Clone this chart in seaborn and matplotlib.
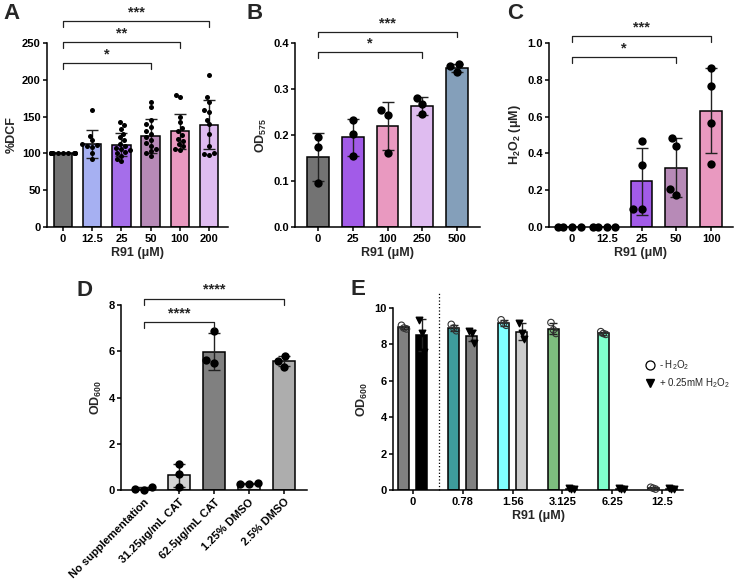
import numpy as np
import pandas as pd
import matplotlib
matplotlib.use('Agg')
import matplotlib.pyplot as plt
from matplotlib.lines import Line2D
import seaborn as sns
import warnings
warnings.filterwarnings('ignore')

sns.set_theme(style='ticks')
plt.rcParams.update({
    'font.family': ['Liberation Sans', 'DejaVu Sans'],
    'axes.labelweight': 'bold',
    'mathtext.fontset': 'custom',
    'mathtext.rm': 'Liberation Sans',
    'mathtext.bf': 'Liberation Sans:bold',
    'mathtext.default': 'regular',
    'axes.linewidth': 1.1,
    'xtick.major.width': 1.1, 'ytick.major.width': 1.1,
    'xtick.major.size': 3, 'ytick.major.size': 3,
    'xtick.major.pad': 2, 'ytick.major.pad': 1.5,
    'xtick.labelsize': 8, 'ytick.labelsize': 8,
    'axes.labelsize': 9,
    'axes.edgecolor': 'black',
    'xtick.color': 'black', 'ytick.color': 'black',
})

# ---------------- data ----------------
a_cats = ['0', '12.5', '25', '50', '100', '200']
a_means = [100, 113, 112, 124, 130, 139]
a_sds = [0, 19, 16, 23, 24, 33]
a_points = [
    [100] * 10,
    [159, 124, 118, 113, 111, 110, 109, 100, 92],
    [142, 138, 133, 127, 122, 118, 113, 110, 108, 106, 104, 102, 100, 97, 93, 90],
    [170, 163, 146, 140, 136, 131, 127, 122, 118, 114, 110, 106, 103, 100, 96],
    [180, 176, 150, 143, 135, 130, 125, 120, 117, 113, 110, 106, 105],
    [207, 176, 170, 159, 156, 146, 140, 126, 110, 100, 99, 98],
]
a_colors = ['#737373', '#99A6FF', '#A259FF', '#BF82BE', '#F78BBF', '#E2B4F8']

b_cats = ['0', '25', '100', '250', '500']
b_means = [0.153, 0.195, 0.219, 0.263, 0.345]
b_sds = [0.052, 0.040, 0.052, 0.019, 0.009]
b_points = [[0.196, 0.173, 0.096], [0.233, 0.203, 0.154], [0.255, 0.243, 0.161],
            [0.281, 0.267, 0.245], [0.355, 0.349, 0.337]]
b_colors = ['#737373', '#A244FF', '#F78BBF', '#E2B4F8', '#7B9FC3']

c_cats = ['0', '12.5', '25', '50', '100']
c_means = [0.0, 0.0, 0.248, 0.322, 0.632]
c_sds = [0.0, 0.0, 0.182, 0.160, 0.231]
c_points = [[0, 0, 0, 0], [0, 0, 0, 0], [0.467, 0.335, 0.10, 0.10],
            [0.442, 0.482, 0.173, 0.204], [0.864, 0.767, 0.564, 0.342]]
c_colors = ['#737373', '#737373', '#A244FF', '#BF82BE', '#F78BBF']

d_cats = ['No supplementation', '31.25μg/mL CAT', '62.5μg/mL CAT', '1.25% DMSO', '2.5% DMSO']
d_means = [0.06, 0.63, 5.97, 0.27, 5.57]
d_sds = [0.06, 0.48, 0.80, 0.03, 0.22]
d_points = [[0.02, 0.13, 0.03], [1.11, 0.69, 0.14], [6.87, 5.48, 5.62],
            [0.25, 0.32, 0.28], [5.80, 5.58, 5.30]]
d_colors = ['#737373', '#D3D3D3', '#808080', '#E8E8E8', '#ADADAD']

e_groups = ['0', '0.78', '1.56', '3.125', '6.25', '12.5']
e_minus_means = [8.93, 8.90, 9.18, 8.87, 8.62, 0.10]
e_minus_sds = [0.10, 0.15, 0.15, 0.30, 0.08, 0.05]
e_minus_points = [[9.05, 8.9, 8.85], [9.1, 8.9, 8.75], [9.35, 9.15, 9.05],
                  [9.2, 8.8, 8.6], [8.7, 8.6, 8.55], [0.15, 0.1, 0.05]]
e_plus_means = [8.52, 8.47, 8.70, 0.08, 0.08, 0.08]
e_plus_sds = [0.88, 0.30, 0.45, 0.03, 0.03, 0.03]
e_plus_points = [[9.35, 8.6, 7.6], [8.75, 8.6, 8.05], [9.15, 8.65, 8.3],
                 [0.1, 0.08, 0.05], [0.1, 0.08, 0.05], [0.1, 0.08, 0.05]]
e_minus_colors = ['#808080', '#3E9C9C', '#80FFFF', '#7DBE7E', '#80FFCC', '#FFFFFF']
e_plus_colors = ['#000000', '#808080', '#CCCCCC', '#999999', '#999999', '#999999']

# ---------------- helpers ----------------
fig = plt.figure(figsize=(7.35, 5.83), dpi=100)
W, H = 735, 583


def axes_px(x0, y0, x1, y1):
    return fig.add_axes([x0 / W, 1 - y1 / H, (x1 - x0) / W, (y1 - y0) / H])


def bar_panel(ax, cats, means, sds, colors, points, dot_size):
    sns.barplot(x=cats, y=means, hue=cats, palette=colors, legend=False,
                order=cats, hue_order=cats, edgecolor='black', linewidth=1.1,
                width=0.63, errorbar=None, ax=ax, zorder=2)
    x = np.arange(len(cats))
    ax.errorbar(x, means, yerr=sds, fmt='none', ecolor='#222222', elinewidth=1,
                capsize=4, capthick=1, zorder=3)
    df = pd.DataFrame({'cat': [c for c, p in zip(cats, points) for _ in p],
                       'val': [v for p in points for v in p]})
    sns.swarmplot(data=df, x='cat', y='val', order=cats, color='black',
                  size=dot_size, ax=ax, zorder=4, clip_on=False)


def bracket(ax, x1, x2, y, h, text, dy):
    ax.plot([x1, x1, x2, x2], [y - h, y, y, y - h], color='#222222', lw=0.9,
            clip_on=False, zorder=5)
    ax.text((x1 + x2) / 2, y + dy, text, ha='center', va='center',
            fontsize=10.5, fontweight='bold', clip_on=False)


def style(ax, xlabel, ylabel):
    sns.despine(ax=ax)
    ax.set_xlabel(xlabel, fontweight='bold', labelpad=2)
    ax.set_ylabel(ylabel, fontweight='bold', labelpad=3)
    for t in ax.get_xticklabels() + ax.get_yticklabels():
        t.set_fontweight('bold')


# ---------------- A ----------------
axA = axes_px(47, 43, 228, 227)
bar_panel(axA, a_cats, a_means, a_sds, a_colors, a_points, 3.6)
axA.set_ylim(0, 250)
axA.set_xlim(-0.55, 5.65)
axA.set_yticks([0, 50, 100, 150, 200, 250])
style(axA, 'R91 (μM)', '%DCF')
bracket(axA, 0, 3, 223, 8, '*', 12)
bracket(axA, 0, 4, 251, 8, '**', 12)
bracket(axA, 0, 5, 280, 8, '***', 12)

# ---------------- B ----------------
axB = axes_px(295, 43, 480, 227)
bar_panel(axB, b_cats, b_means, b_sds, b_colors, b_points, 6)
axB.set_ylim(0, 0.4)
axB.set_xlim(-0.66, 4.66)
axB.set_yticks([0, 0.1, 0.2, 0.3, 0.4])
axB.yaxis.set_major_formatter(matplotlib.ticker.FormatStrFormatter('%.1f'))
style(axB, 'R91 (μM)', r'OD$_\mathbf{575}$')
bracket(axB, 0, 3, 0.380, 0.012, '*', 0.019)
bracket(axB, 0, 4, 0.424, 0.012, '***', 0.019)

# ---------------- C ----------------
axC = axes_px(549, 43, 733, 227)
bar_panel(axC, c_cats, c_means, c_sds, c_colors, c_points, 6)
axC.set_ylim(0, 1.0)
axC.set_xlim(-0.66, 4.63)
axC.set_yticks([0, 0.2, 0.4, 0.6, 0.8, 1.0])
axC.yaxis.set_major_formatter(matplotlib.ticker.FormatStrFormatter('%.1f'))
style(axC, 'R91 (μM)', r'H$_\mathbf{2}$O$_\mathbf{2}$ (μM)')
bracket(axC, 0, 3, 0.924, 0.03, '*', 0.047)
bracket(axC, 0, 4, 1.036, 0.03, '***', 0.047)

# ---------------- D ----------------
axD = axes_px(121, 305, 307, 490)
bar_panel(axD, d_cats, d_means, d_sds, d_colors, d_points, 6)
axD.set_ylim(0, 8)
axD.set_xlim(-0.66, 4.66)
axD.set_yticks([0, 2, 4, 6, 8])
style(axD, '', r'OD$_\mathbf{600}$')
for t in axD.get_xticklabels():
    t.set_rotation(45)
    t.set_ha('right')
    t.set_rotation_mode('anchor')
bracket(axD, 0, 2, 7.25, 0.25, '****', 0.4)
bracket(axD, 0, 4, 8.27, 0.25, '****', 0.4)

# ---------------- E ----------------
axE = axes_px(393, 308, 683, 490)
df_e = pd.DataFrame({'group': e_groups * 2,
                     'cond': ['minus'] * 6 + ['plus'] * 6,
                     'val': e_minus_means + e_plus_means})
sns.barplot(data=df_e, x='group', y='val', hue='cond', order=e_groups,
            hue_order=['minus', 'plus'], width=0.72, gap=0.39, errorbar=None,
            edgecolor='black', linewidth=1.1, legend=False, ax=axE, zorder=2)
bars = sorted(axE.patches, key=lambda p: p.get_x())
e_colors = [c for pair in zip(e_minus_colors, e_plus_colors) for c in pair]
e_means = [m for pair in zip(e_minus_means, e_plus_means) for m in pair]
e_sds = [s for pair in zip(e_minus_sds, e_plus_sds) for s in pair]
e_pts = [p for pair in zip(e_minus_points, e_plus_points) for p in pair]
centers = []
for b, c in zip(bars, e_colors):
    b.set_facecolor(c)
    centers.append(b.get_x() + b.get_width() / 2)
centers = np.array(centers)
axE.errorbar(centers, e_means, yerr=e_sds, fmt='none', ecolor='#222222',
             elinewidth=1, capsize=3, capthick=1, zorder=3)
spread = np.array([-0.05, 0.0, 0.05])
for i, (cx, pts) in enumerate(zip(centers, e_pts)):
    if i % 2 == 0:
        axE.scatter(cx + spread, pts, s=22, facecolors='none', edgecolors='#333333',
                    linewidths=0.8, zorder=4, clip_on=False)
    else:
        axE.scatter(cx + spread, pts, s=22, marker='v', color='black', zorder=4,
                    clip_on=False)
axE.plot([0.52, 0.52], [0, 10.9], ls=':', color='black', lw=0.9, clip_on=False)
axE.set_ylim(0, 10)
axE.set_xlim(-0.4, 5.42)
axE.set_yticks([0, 2, 4, 6, 8, 10])
style(axE, 'R91 (μM)', r'OD$_\mathbf{600}$')
handles = [Line2D([], [], marker='o', ls='none', markerfacecolor='none',
                  markeredgecolor='black', markersize=6.5, markeredgewidth=0.9),
           Line2D([], [], marker='v', ls='none', color='black', markersize=6)]
fig.legend(handles, ['- H$_2$O$_2$', '+ 0.25mM H$_2$O$_2$'], loc='upper left',
           bbox_to_anchor=(645 / W, 1 - 358 / H), frameon=False,
           prop={'size': 7, 'weight': 'normal'}, handlelength=1.0,
           handletextpad=0.4, labelspacing=0.5, borderaxespad=0, borderpad=0)

# panel letters
for letter, x, y in [('A', 3, 3), ('B', 247, 3), ('C', 507, 3), ('D', 77, 280), ('E', 351, 279)]:
    fig.text(x / W, 1 - y / H, letter, fontsize=16, fontweight='bold', va='top', ha='left')

fig.savefig('out.png', dpi=100)
